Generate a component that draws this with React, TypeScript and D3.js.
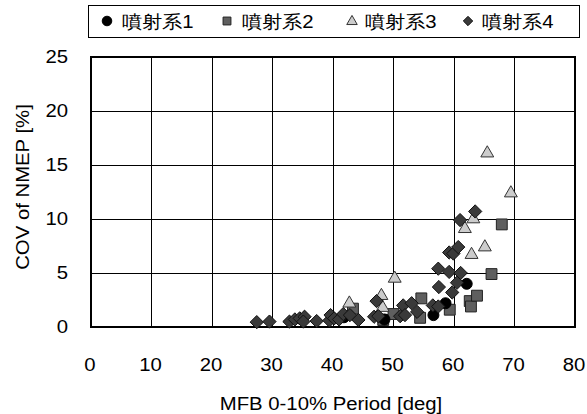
import React from "react";
import * as d3 from "d3";

const seriesNames = ["噴射系1", "噴射系2", "噴射系3", "噴射系4"];

// 噴射系1 (circles)
const s1x = [41.8, 48.5, 56.6, 58.6, 62.1];
const s1y = [0.9, 0.7, 1.1, 2.2, 4.0];

// 噴射系2 (squares)
const s2x = [43.3, 48.3, 50.0, 54.4, 54.6, 59.3, 62.6, 62.8, 63.8, 66.2, 67.9];
const s2y = [1.7, 0.65, 1.2, 0.85, 2.65, 1.6, 2.4, 1.9, 2.9, 4.9, 9.5];

// 噴射系3 (triangles)
const s3x = [42.7, 48.0, 48.2, 50.2, 61.8, 63.2, 62.9, 65.1, 65.5, 69.4];
const s3y = [2.1, 2.8, 1.7, 4.4, 9.0, 9.9, 6.6, 7.3, 16.0, 12.3];

// 噴射系4 (diamonds)
const s4x = [27.4, 29.5, 32.8, 33.7, 34.5, 35.3, 35.1, 37.3, 39.4, 39.6, 40.2, 41.0, 41.7, 42.8, 44.2, 46.8, 47.2, 47.5, 51.1, 51.6, 53.0, 51.9, 53.9, 56.5, 57.4, 57.5, 57.4, 59.2, 61.1, 59.2, 59.9, 60.7, 59.7, 60.5, 61.0, 63.5];
const s4y = [0.45, 0.5, 0.5, 0.7, 0.8, 0.95, 0.5, 0.55, 0.6, 1.1, 0.8, 0.7, 1.2, 1.1, 0.65, 0.95, 2.4, 1.0, 1.0, 2.0, 2.2, 1.1, 1.4, 2.0, 1.9, 3.7, 5.4, 5.1, 5.0, 6.9, 6.8, 7.4, 3.2, 4.1, 9.9, 10.7];

const xTicks = [0, 10, 20, 30, 40, 50, 60, 70, 80];
const yTicks = [0, 5, 10, 15, 20, 25];

const W = 587;
const H = 414;
const M = { left: 91, right: 575, top: 57, bottom: 327 };
const FONT = "'Liberation Sans', Arial, sans-serif";
const FS = 18;
const SX = 1.13; // horizontal text stretch

const x = d3.scaleLinear().domain([0, 80]).range([M.left, M.right]);
const y = d3.scaleLinear().domain([0, 25]).range([M.bottom, M.top]);

type Shape = "circle" | "square" | "triangle" | "diamond";
const shapes: Shape[] = ["circle", "square", "triangle", "diamond"];
const fills = ["#000000", "#5f5f5f", "#cccccc", "#3a3a3a"];
const strokes = ["#000000", "#222222", "#333333", "#111111"];

function symbolPath(shape: Shape, size: number) {
  const t =
    shape === "circle"
      ? d3.symbolCircle
      : shape === "square"
      ? d3.symbolSquare
      : shape === "triangle"
      ? d3.symbolTriangle
      : d3.symbolDiamond2;
  return d3.symbol(t, size)() as string;
}

const plotSizes = [95, 118, 72, 112];
const legendSizes = [72, 62, 48, 56];

const seriesX = [s1x, s2x, s3x, s4x];
const seriesY = [s1y, s2y, s3y, s4y];

// draw order: squares/circles behind, diamonds in front
const drawOrder = [1, 0, 2, 3];

function Label(props: { x: number; y: number; anchor?: string; dy?: string; rotate?: number; children: React.ReactNode }) {
  const { x: tx, y: ty, anchor = "start", dy, rotate = 0, children } = props;
  return (
    <g transform={`translate(${tx},${ty}) rotate(${rotate}) scale(${SX},1)`}>
      <text x={0} y={0} dy={dy} textAnchor={anchor} fontFamily={FONT} fontSize={FS} fill="#000">
        {children}
      </text>
    </g>
  );
}

export default function App() {
  const legendItems = [
    { mx: 107, tx: 122 },
    { mx: 227, tx: 242 },
    { mx: 352, tx: 365 },
    { mx: 468, tx: 482 },
  ];
  return (
    <svg width={W} height={H} style={{ display: "block", position: "absolute", left: 0, top: 0 }}>
      <rect x={0} y={0} width={W} height={H} fill="#ffffff" />
      {/* grid */}
      {xTicks.slice(1, -1).map((t) => (
        <line key={"gx" + t} x1={x(t)} x2={x(t)} y1={M.top} y2={M.bottom} stroke="#000" strokeWidth={1} shapeRendering="crispEdges" />
      ))}
      {yTicks.slice(1, -1).map((t) => (
        <line key={"gy" + t} x1={M.left} x2={M.right} y1={y(t)} y2={y(t)} stroke="#000" strokeWidth={1} shapeRendering="crispEdges" />
      ))}
      <rect x={M.left} y={M.top} width={M.right - M.left} height={M.bottom - M.top} fill="none" stroke="#000" strokeWidth={1.2} shapeRendering="crispEdges" />
      {/* points */}
      {drawOrder.map((si) =>
        seriesX[si].map((vx, i) => (
          <path
            key={si + "-" + i}
            d={symbolPath(shapes[si], plotSizes[si])}
            transform={`translate(${x(vx)},${y(seriesY[si][i]) - (shapes[si] === "triangle" ? 1 : 0)})`}
            fill={fills[si]}
            stroke={strokes[si]}
            strokeWidth={1}
          />
        ))
      )}
      {/* tick labels */}
      {yTicks.map((t) => (
        <Label key={"ty" + t} x={68} y={y(t)} dy="0.35em" anchor="end">
          {t}
        </Label>
      ))}
      {xTicks.map((t) => (
        <Label key={"tx" + t} x={x(t) - 1} y={371} anchor="middle">
          {t}
        </Label>
      ))}
      <Label x={331} y={410} anchor="middle">
        MFB 0-10% Period [deg]
      </Label>
      <g transform="translate(29,187) rotate(-90) scale(1.13,1)">
        <text x={0} y={0} textAnchor="middle" fontFamily={FONT} fontSize={FS} fill="#000">
          COV of NMEP [%]
        </text>
      </g>
      {/* legend */}
      <rect x={88.5} y={5.5} width={491} height={32} fill="#fff" stroke="#000" strokeWidth={1} />
      {seriesNames.map((name, i) => (
        <g key={name}>
          <path
            d={symbolPath(shapes[i], legendSizes[i])}
            transform={`translate(${legendItems[i].mx},${21 + (shapes[i] === "triangle" ? 0.5 : 0)})`}
            fill={fills[i]}
            stroke={strokes[i]}
            strokeWidth={1}
          />
          <Label x={legendItems[i].tx} y={21.5} dy="0.35em">
            {name}
          </Label>
        </g>
      ))}
    </svg>
  );
}
